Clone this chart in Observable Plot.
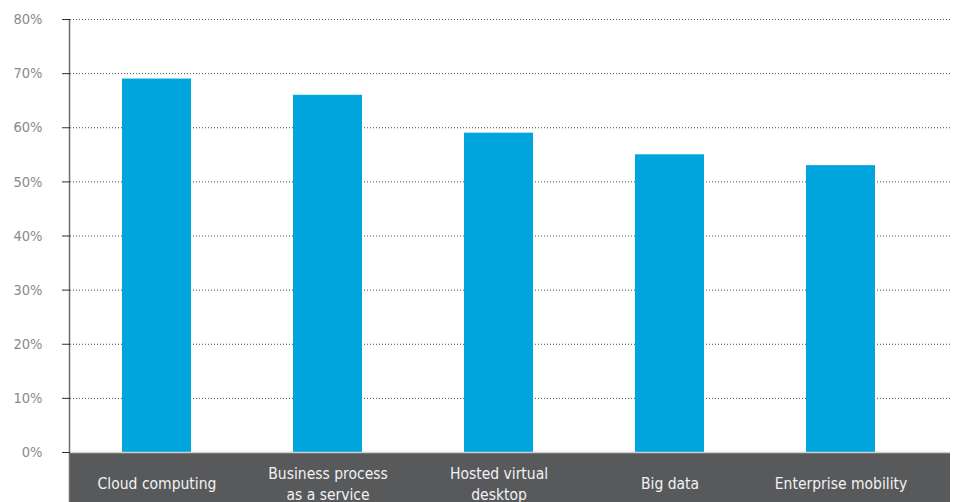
<!DOCTYPE html>
<html><head><meta charset="utf-8">
<script src="https://cdn.jsdelivr.net/npm/d3@7"></script>
<script src="https://cdn.jsdelivr.net/npm/@observablehq/plot@0.6"></script>
<style>body{margin:0;background:#fff}</style>
</head><body><div id="chart"></div>
<script>
const categories = ["Cloud computing", "Business process\nas a service", "Hosted virtual\ndesktop", "Big data", "Enterprise mobility"];
const values = [69, 66, 59, 55, 53];
const yTicks = [0, 10, 20, 30, 40, 50, 60, 70, 80];

const data = categories.map((c, i) => ({category: c, value: values[i]}));
const font = '"Liberation Sans Narrow","DejaVu Sans Condensed","Roboto",sans-serif';

const bandMark = (index, scales, vals, dim) => {
  const g = d3.create("svg:g");
  g.append("rect")
    .attr("x", dim.marginLeft)
    .attr("y", dim.height - dim.marginBottom)
    .attr("width", dim.width - dim.marginLeft - dim.marginRight)
    .attr("height", dim.marginBottom)
    .attr("fill", "#58595b");
  return g.node();
};
const axisLine = (index, scales, vals, dim) => {
  const g = d3.create("svg:g");
  g.append("line")
    .attr("x1", dim.marginLeft - 0.5).attr("x2", dim.marginLeft - 0.5)
    .attr("y1", dim.marginTop).attr("y2", dim.height)
    .attr("stroke", "#6d6e70").attr("stroke-width", 1.5);
  return g.node();
};

const chart = Plot.plot({
  width: 953, height: 502,
  marginTop: 19, marginBottom: 50, marginLeft: 70, marginRight: 3,
  style: {fontFamily: font, background: "#fff"},
  x: {domain: categories, paddingInner: 0.598, paddingOuter: 0.3645, align: 0.408, axis: null},
  y: {domain: [0, 80], axis: null},
  marks: [
    bandMark,
    Plot.gridY(yTicks.filter(d => d > 0), {stroke: "#444", strokeOpacity: 1, strokeDasharray: "1,2"}),
    Plot.barY(data, {x: "category", y: "value", fill: "#00a5de"}),
    Plot.ruleY([0], {stroke: "#cfcfcf", strokeWidth: 1.5}),
    axisLine,
    Plot.axisY(yTicks, {label: null, tickFormat: d => d + "%", tickSize: 8, tickPadding: 20, stroke: "#333", fill: "#8a8a8a", fontSize: 14.5}),
    Plot.text(data, {x: "category", text: "category", frameAnchor: "bottom", dy: 30, lineAnchor: "middle", lineHeight: 1.4, fill: "#f2f2f2", fontSize: 15.5})
  ]
});
document.getElementById("chart").append(chart);
</script>
</body></html>
